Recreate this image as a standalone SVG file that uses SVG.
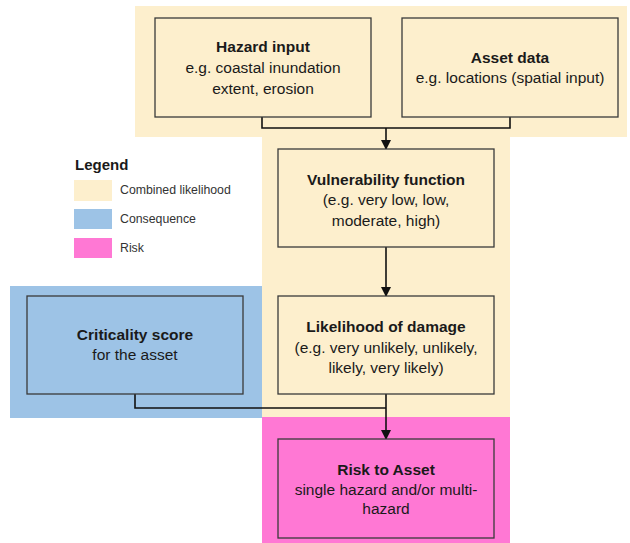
<svg xmlns="http://www.w3.org/2000/svg" width="630" height="543" viewBox="0 0 630 543">
<style>
.bg{stroke:none}
.y{fill:#FDEFCD}
.b{fill:#9DC3E6}
.p{fill:#FF78D4}
.box{stroke:#3a3a3a;stroke-width:1.3}
text{font-family:"Liberation Sans",Arial,sans-serif;fill:#1a1a1a;text-anchor:middle}
.t{font-size:15.5px;font-weight:bold}
.s{font-size:15.5px}
.lg{font-size:12.3px;text-anchor:start;fill:#333}
.lh{font-size:15px;font-weight:bold;text-anchor:start}
.c{fill:none;stroke:#111;stroke-width:1.6}
</style>
<defs>
<marker id="ah" markerWidth="10" markerHeight="10" refX="9" refY="5" orient="auto" markerUnits="userSpaceOnUse">
<path d="M0,0 L10,5 L0,10 z" fill="#111"/>
</marker>
</defs>
<rect width="630" height="543" fill="#fff"/>
<g id="regions">
<path class="bg y" d="M135,6 H627 V137 H510 V418 H262 V137 H135 z"/>
<rect class="bg b" x="10" y="286" width="252" height="132"/>
<rect class="bg p" x="262" y="417" width="248" height="126"/>
</g>
<g id="legend">
<text class="lh" x="75" y="170">Legend</text>
<rect class="y" x="74" y="180" width="38" height="21"/>
<rect class="b" x="74" y="209" width="38" height="20"/>
<rect class="p" x="74" y="238" width="38" height="20"/>
<text class="lg" x="120" y="194">Combined likelihood</text>
<text class="lg" x="120" y="223">Consequence</text>
<text class="lg" x="120" y="252">Risk</text>
</g>
<g id="connectors">
<polyline class="c" points="262,117 262,128 510,128 510,117"/>
<line class="c" x1="386" y1="128" x2="386" y2="149" marker-end="url(#ah)"/>
<line class="c" x1="386" y1="247" x2="386" y2="296" marker-end="url(#ah)"/>
<polyline class="c" points="135,394 135,408 386,408"/>
<line class="c" x1="386" y1="394" x2="386" y2="439" marker-end="url(#ah)"/>
</g>
<g id="hazard">
<rect class="box y" x="155" y="18" width="216" height="99"/>
<text class="t" x="263" y="52">Hazard input</text>
<text class="s" x="263" y="73">e.g. coastal inundation</text>
<text class="s" x="263" y="94">extent, erosion</text>
</g>
<g id="asset">
<rect class="box y" x="402" y="18" width="216" height="99"/>
<text class="t" x="510" y="63">Asset data</text>
<text class="s" x="510" y="83">e.g. locations (spatial input)</text>
</g>
<g id="vulnerability">
<rect class="box y" x="278" y="149" width="216" height="98"/>
<text class="t" x="386" y="185">Vulnerability function</text>
<text class="s" x="386" y="205">(e.g. very low, low,</text>
<text class="s" x="386" y="226">moderate, high)</text>
</g>
<g id="likelihood">
<rect class="box y" x="278" y="296" width="216" height="98"/>
<text class="t" x="386" y="332">Likelihood of damage</text>
<text class="s" x="386" y="353">(e.g. very unlikely, unlikely,</text>
<text class="s" x="386" y="373">likely, very likely)</text>
</g>
<g id="criticality">
<rect class="box b" x="27" y="296" width="216" height="98"/>
<text class="t" x="135" y="340">Criticality score</text>
<text class="s" x="135" y="360">for the asset</text>
</g>
<g id="risk">
<rect class="box p" x="278" y="439" width="216" height="99"/>
<text class="t" x="386" y="475">Risk to Asset</text>
<text class="s" x="386" y="495">single hazard and/or multi-</text>
<text class="s" x="386" y="514">hazard</text>
</g>
</svg>
